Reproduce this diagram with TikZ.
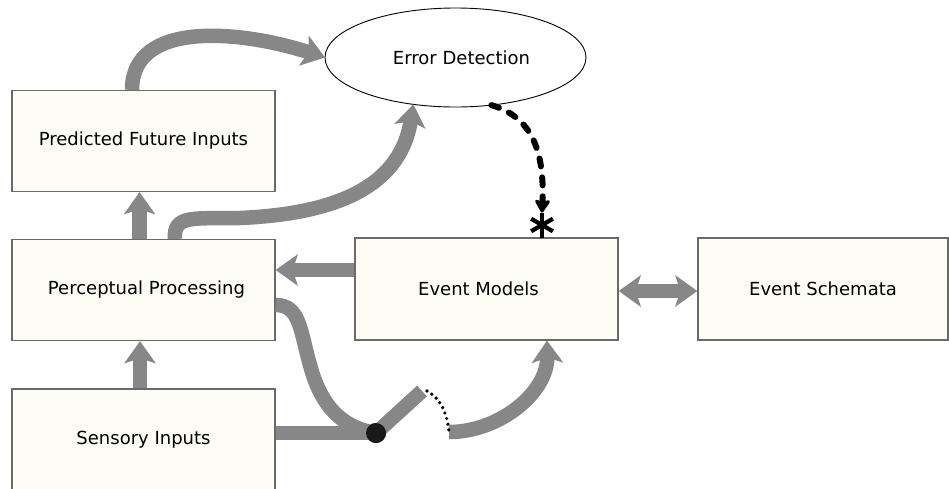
\documentclass[tikz,border=0pt]{standalone}
\usepackage{fontspec}
\setmainfont{DejaVu Sans}
\usetikzlibrary{arrows.meta,shapes.geometric}
\definecolor{boxfill}{HTML}{FDFDF6}
\definecolor{boxline}{HTML}{6A6A6A}
\definecolor{flowgrey}{HTML}{878787}

\begin{document}
\begin{tikzpicture}[x=1pt,y=-1pt,
  box/.style={draw=boxline, line width=1.3pt, fill=boxfill, rectangle,
    minimum width=263pt, minimum height=101pt, inner sep=0pt,
    font=\fontsize{18}{21}\selectfont},
  oval/.style={draw=black, line width=0.9pt, fill=white, ellipse,
    minimum width=261pt, minimum height=99pt, inner sep=0pt, outer sep=0pt,
    font=\fontsize{18}{21}\selectfont},
  flow/.style={draw=flowgrey, line width=14.5pt, -{Stealth[length=22pt,width=31pt,inset=5pt]}},
  bothflow/.style={draw=flowgrey, line width=14.5pt,
    {Stealth[length=22pt,width=31pt,inset=5pt]}-{Stealth[length=22pt,width=31pt,inset=5pt]}},
  plain/.style={draw=flowgrey, line width=14.5pt},
  errline/.style={draw=black, line width=6pt, line cap=round,
    dash pattern=on 8pt off 11pt,
    -{Stealth[length=15pt,width=18pt,inset=3pt,round]}},
]
\clip (0,0) rectangle (949,488);
\useasboundingbox (0,0) rectangle (949,488);
\fill[white] (0,0) rectangle (949,488);

% boxes
\node[box] (pfi) at (143.5,141) {Predicted Future Inputs};
\node[box] (pp)  at (143.5,290) {\hspace{6pt}Perceptual Processing};
\node[box, minimum height=106pt] (si) at (143.5,442) {\raisebox{9pt}{Sensory Inputs}};
\node[box, minimum height=102pt] (em) at (486.5,289) {\hspace{-16pt}Event Models};
\node[box, minimum width=250pt, minimum height=102pt] (es) at (823,289) {Event Schemata};
\node[oval] (ed) at (455.5,57.5) {\hspace{12pt}Error Detection};

% switch point
\coordinate (lv) at (422,391);
\coordinate (go) at (449,432);
\node[circle, fill=black!90, minimum size=20pt, inner sep=0pt] (sw) at (376,433) {};

% grey flows
\draw[flow] ([xshift=-11.5pt]pfi.north) .. controls (132,20) and (240,30) .. (ed.west);
\draw[flow] ([xshift=31.5pt]pp.north) .. controls (173,214) and (195,219) .. (240,218)
   .. controls (330,214) and (400,190) .. (ed.-132);
\draw[flow] ([xshift=-4pt]pp.north) -- ([xshift=-4pt]pfi.south);
\draw[flow] ([xshift=-3.5pt]si.north) -- ([xshift=-3.5pt]pp.south);
\draw[flow] ([yshift=19pt]em.west) -- ([yshift=19pt]em.west -| pp.east);
\draw[bothflow] ([yshift=-2pt]em.east) -- ([yshift=-2pt]em.east -| es.west);

% paths into the switch
\draw[plain] ([yshift=-15pt]pp.east) .. controls (300,305) and (300,330) .. (310,365)
   .. controls (322,410) and (345,428) .. (sw.center);
\draw[plain] ([yshift=9pt]si.east) -- (sw.center);
\draw[plain] (sw.center) -- (lv);
\draw[flow] (go) .. controls (500,432) and (548,392) .. ([xshift=60.5pt]em.south);
\node[circle, fill=black!90, minimum size=20pt, inner sep=0pt] at (sw) {};

% open contact
\draw[black, line width=3.6pt, line cap=round, dash pattern=on 0pt off 5.8pt]
  (427,391) .. controls (440,398) and (447,412) .. (go);

% error signal
\node[inner sep=0pt] (ast) at (542,225) {};
\foreach \a in {90,30,150}
  \draw[black, line width=4.2pt] (ast.center) ++(\a:12.5pt) -- ++(\a+180:25pt);
\draw[errline] (ed.-53) .. controls (528,116) and (545,145) .. ([yshift=12.5pt]ast.center);
\end{tikzpicture}
\end{document}
